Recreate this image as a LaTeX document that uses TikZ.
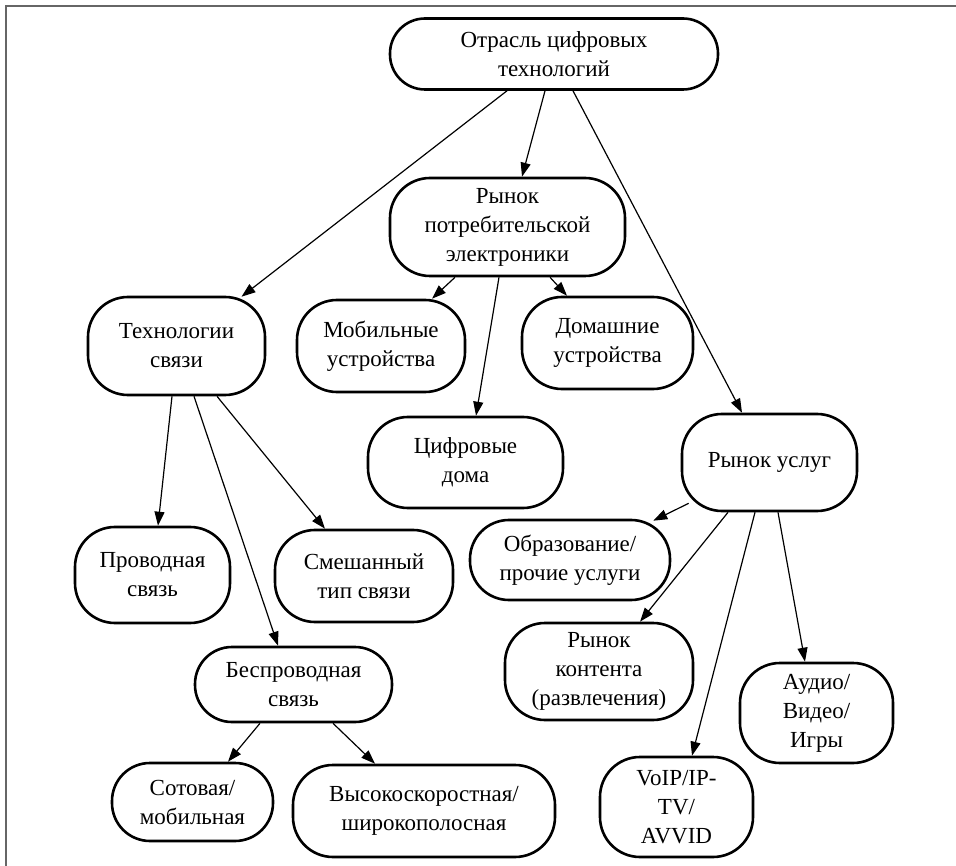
\documentclass[tikz,border=0pt]{standalone}
\usepackage{fontspec}
\setmainfont{Liberation Serif}
\usetikzlibrary{arrows.meta}
\begin{document}
\begin{tikzpicture}[x=1pt,y=-1pt,
  box/.style={draw=black,line width=2.6pt,rounded corners=40pt,align=center,inner sep=0pt,
    font=\fontsize{23}{29}\selectfont},
  arr/.style={draw=black,line width=1.2pt,-{Triangle[length=14pt,width=10pt]}},
  frameline/.style={draw=black!60,line width=2pt}]
\useasboundingbox (0,0) rectangle (956,866);
\coordinate (f1) at (956,6);
\coordinate (f2) at (6,6);
\coordinate (f3) at (6,866);
\draw[frameline] (f1) -- (f2) -- (f3);

\node[box,rounded corners=35pt,minimum width=328pt,minimum height=71pt] (T) at (554,54) {Отрасль цифровых\\технологий};
\node[box,minimum width=235pt,minimum height=98pt] (CE) at (507.5,227) {Рынок\\потребительской\\электроники};
\node[box,minimum width=168pt,minimum height=92pt] (MD) at (381,346) {Мобильные\\устройства};
\node[box,minimum width=171pt,minimum height=92pt] (HD) at (607.5,343) {Домашние\\устройства};
\node[box,minimum width=195pt,minimum height=91pt] (DH) at (465.5,462.5) {Цифровые\\дома};
\node[box,minimum width=177pt,minimum height=98pt] (TS) at (176.5,346) {Технологии\\связи};
\node[box,minimum width=155pt,minimum height=96pt] (WC) at (152.5,575) {Проводная\\связь};
\node[box,minimum width=178pt,minimum height=92pt] (MX) at (364,576) {Смешанный\\тип связи};
\node[box,rounded corners=37pt,minimum width=197pt,minimum height=75pt] (WL) at (293.5,684.5) {Беспроводная\\связь};
\node[box,rounded corners=38pt,minimum width=161pt,minimum height=78pt] (CM) at (192.5,802) {Сотовая/\\мобильная};
\node[box,minimum width=262pt,minimum height=92pt] (BB) at (424,811) {Высокоскоростная/\\широкополосная};
\node[box,minimum width=175pt,minimum height=97pt] (SM) at (769.5,462.5) {Рынок услуг};
\node[box,rounded corners=39pt,minimum width=200pt,minimum height=80pt] (ED) at (570,560) {Образование/\\прочие услуги};
\node[box,minimum width=188pt,minimum height=97pt] (CT) at (599,671.5) {Рынок\\контента\\(развлечения)};
\node[box,minimum width=153pt,minimum height=100pt] (AV) at (816.5,713) {Аудио/\\Видео/\\Игры};
\node[box,minimum width=153pt,minimum height=100pt] (VO) at (676.5,807) {VoIP/IP-\\TV/\\AVVID};

\draw[arr] ([xshift=-47pt]T.south) -- ([xshift=65pt,yshift=-1pt]TS.north);
\draw[arr] ([xshift=-9pt]T.south) -- ([xshift=14.5pt]CE.north);
\draw[arr] ([xshift=19pt]T.south) -- ([xshift=-27.5pt]SM.north);
\draw[arr] ([xshift=-52.5pt]CE.south) -- ([xshift=51pt]MD.north);
\draw[arr] ([xshift=42.5pt]CE.south) -- ([xshift=-40.5pt]HD.north);
\draw[arr] ([xshift=-8.5pt]CE.south) -- ([xshift=10.5pt]DH.north);
\draw[arr] ([xshift=-4.5pt]TS.south) -- ([xshift=5.5pt]WC.north);
\draw[arr] ([xshift=17.5pt]TS.south) -- ([xshift=-15.5pt]WL.north);
\draw[arr] ([xshift=40.5pt]TS.south) -- ([xshift=-39pt]MX.north);
\draw[arr] ([xshift=-33.5pt]WL.south) -- ([xshift=35.5pt]CM.north);
\draw[arr] ([xshift=39.5pt]WL.south) -- ([xshift=-49pt]BB.north);
\draw[arr] ([xshift=8pt,yshift=9pt]SM.south west) -- ([xshift=-18pt,yshift=-2pt]ED.north east);
\draw[arr] ([xshift=-41.5pt]SM.south) -- ([xshift=41pt]CT.north);
\draw[arr] ([xshift=-14.5pt]SM.south) -- ([xshift=15.5pt]VO.north);
\draw[arr] ([xshift=8.5pt]SM.south) -- ([xshift=-11.5pt]AV.north);
\end{tikzpicture}
\end{document}
